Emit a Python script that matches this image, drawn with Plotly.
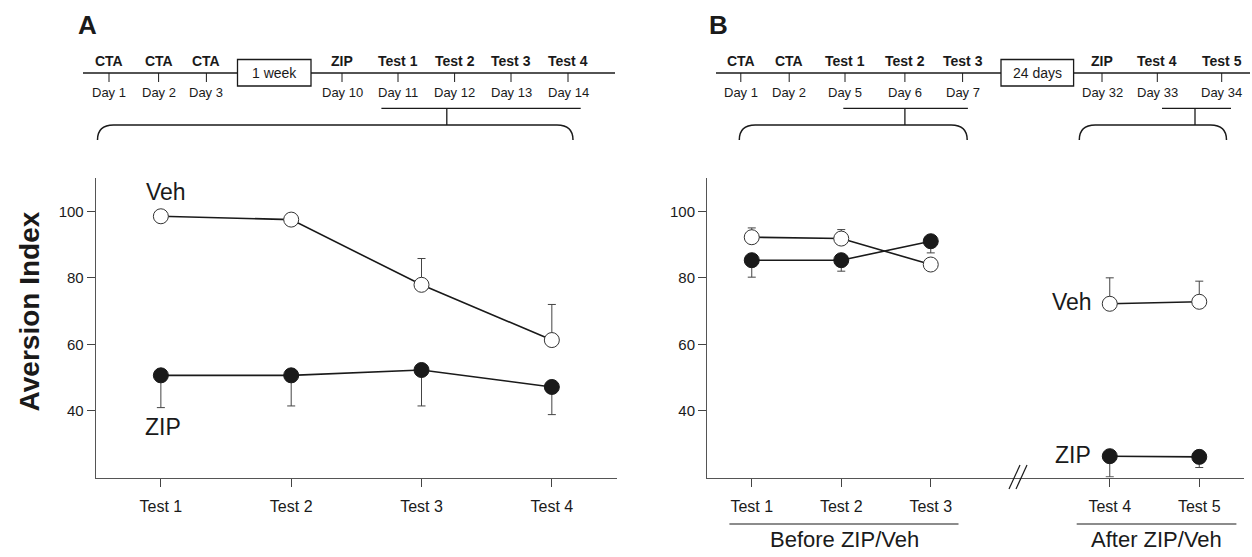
import plotly.graph_objects as go

# ---------------- data ----------------
tests_a = ["Test 1", "Test 2", "Test 3", "Test 4"]
veh_a = [98.5, 97.5, 77.9, 61.3]
veh_a_err = [1.0, 1.0, 7.9, 10.7]
zip_a = [50.7, 50.7, 52.3, 47.2]
zip_a_err = [9.7, 9.2, 10.8, 8.3]

axis_b = ["Test 1", "Test 2", "Test 3", "", "Test 4", "Test 5"]  # "" = axis break
tests_b_before = ["Test 1", "Test 2", "Test 3"]
tests_b_after = ["Test 4", "Test 5"]
veh_b_before = [92.2, 91.8, 84.0]
veh_b_before_err = [2.8, 2.7, 1.0]
zip_b_before = [85.3, 85.3, 91.0]
zip_b_before_err = [5.1, 3.3, 3.5]
veh_b_after = [72.2, 72.8]
veh_b_after_err = [7.8, 6.2]
zip_b_after = [26.4, 26.2]
zip_b_after_err = [6.2, 3.2]

y_ticks = [40, 60, 80, 100]

events_a = ["CTA", "CTA", "CTA", "ZIP", "Test 1", "Test 2", "Test 3", "Test 4"]
days_a = ["Day 1", "Day 2", "Day 3", "Day 10", "Day 11", "Day 12", "Day 13", "Day 14"]
events_b = ["CTA", "CTA", "Test 1", "Test 2", "Test 3", "ZIP", "Test 4", "Test 5"]
days_b = ["Day 1", "Day 2", "Day 5", "Day 6", "Day 7", "Day 32", "Day 33", "Day 34"]

# ---------------- layout helpers (pixel positions -> paper) ----------------
W, H = 1252, 557
def px(x):
    return x / W
def py(y):
    return 1 - y / H

FONT = "Liberation Sans, Arial, sans-serif"
INK = "#1a1a1a"

pos_a = list(range(len(tests_a)))
idx_b = {t: i for i, t in enumerate(axis_b)}
xb_before = [idx_b[t] for t in tests_b_before]
xb_after = [idx_b[t] for t in tests_b_after]
tickvals_b = [i for i, t in enumerate(axis_b) if t]
ticktext_b = [t for t in axis_b if t]

fig = go.Figure()

def add_series(x, y, err, up, filled, xa, ya):
    fig.add_trace(go.Scatter(
        x=x, y=y, mode="lines+markers", xaxis=xa, yaxis=ya,
        line=dict(color=INK, width=1.6),
        marker=dict(symbol="circle", size=15,
                    color=INK if filled else "white",
                    line=dict(color="#333" if not filled else INK, width=1)),
        error_y=dict(type="data", symmetric=False,
                     array=err if up else [0] * len(err),
                     arrayminus=[0] * len(err) if up else err,
                     color="#444", thickness=1, width=4),
        showlegend=False, hoverinfo="skip"))

add_series(pos_a, veh_a, veh_a_err, True, False, "x", "y")
add_series(pos_a, zip_a, zip_a_err, False, True, "x", "y")
add_series(xb_before, veh_b_before, veh_b_before_err, True, False, "x2", "y2")
add_series(xb_before, zip_b_before, zip_b_before_err, False, True, "x2", "y2")
add_series(xb_after, veh_b_after, veh_b_after_err, True, False, "x2", "y2")
add_series(xb_after, zip_b_after, zip_b_after_err, False, True, "x2", "y2")

ydom = [py(477.5), py(178)]
axis_common = dict(showgrid=False, zeroline=False, showline=True, linecolor="#555",
                   linewidth=1, ticks="outside", ticklen=8, tickcolor="#444")
xfont = dict(family=FONT, size=16, color=INK)
yfont = dict(family=FONT, size=15, color=INK)
fig.update_layout(
    width=W, height=H, margin=dict(l=0, r=0, t=0, b=0),
    paper_bgcolor="white", plot_bgcolor="white",
    xaxis=dict(domain=[px(95.7), px(617)], range=[-0.5, 3.5], tickvals=pos_a,
               ticktext=tests_a, anchor="y", tickfont=xfont, ticklabelstandoff=6,
               **axis_common),
    yaxis=dict(domain=ydom, range=[20, 110], tickvals=y_ticks, anchor="x",
               tickfont=yfont, **axis_common),
    xaxis2=dict(domain=[px(707), px(1244)], range=[-0.5, 5.5], tickvals=tickvals_b,
                ticktext=ticktext_b, anchor="y2", tickfont=xfont, ticklabelstandoff=6,
                **axis_common),
    yaxis2=dict(domain=ydom, range=[20, 110], tickvals=y_ticks, anchor="x2",
                tickfont=yfont, **axis_common),
)

shapes = []
ann = []

def line(x0, y0, x1, y1, w=1.3, color=INK):
    shapes.append(dict(type="line", xref="paper", yref="paper",
                       x0=px(x0), y0=py(y0), x1=px(x1), y1=py(y1),
                       line=dict(color=color, width=w)))

def text(x, y, s, size, bold=False, angle=0):
    ann.append(dict(xref="paper", yref="paper", x=px(x), y=py(y), text=f"<b>{s}</b>" if bold else s,
                    showarrow=False, xanchor="center", yanchor="middle", textangle=angle,
                    font=dict(family=FONT, size=size, color=INK)))

def brace(x0, x1, ytop, ybot, r=16):
    path = (f"M {px(x0)},{py(ybot)} Q {px(x0)},{py(ytop)} {px(x0 + r)},{py(ytop)} "
            f"L {px(x1 - r)},{py(ytop)} Q {px(x1)},{py(ytop)} {px(x1)},{py(ybot)}")
    shapes.append(dict(type="path", xref="paper", yref="paper", path=path,
                       line=dict(color=INK, width=1.5)))

def timeline(x_start, x_end, box, box_label, ev_x, events, days):
    line(x_start, 73, x_end, 73, w=1.3)
    shapes.append(dict(type="rect", xref="paper", yref="paper",
                       x0=px(box[0]), x1=px(box[1]), y0=py(86), y1=py(59.5),
                       fillcolor="white", line=dict(color=INK, width=1.3)))
    text((box[0] + box[1]) / 2, 73, box_label, 14)
    for x, e, d in zip(ev_x, events, days):
        line(x, 73, x, 82, w=1)
        text(x, 60.5, e, 14, bold=True)
        text(x, 92, d, 13)

# timeline A
timeline(83, 615, (237.5, 311), "1 week",
         [109, 158.6, 206.4, 342, 398, 454.6, 511, 568], events_a, days_a)
line(381.4, 108.3, 580.7, 108.3)
line(446.8, 108.3, 446.8, 125)
brace(97.5, 573, 125, 140)

# timeline B
timeline(716, 1250, (1001, 1073.6), "24 days",
         [740.8, 789.2, 845, 904.9, 962.6, 1102, 1157.3, 1221.7], events_b, days_b)
line(843.3, 108.3, 967.9, 108.3)
line(904.9, 108.3, 904.9, 125)
brace(739.3, 967.2, 125, 140)
line(1162, 108.3, 1231, 108.3)
line(1195, 108.3, 1195, 125)
brace(1079.3, 1226.5, 125, 140)

# panel letters
text(87, 25, "A", 26, bold=True)
text(718, 25, "B", 26, bold=True)

# y title
text(29.7, 311.7, "Aversion Index", 28, bold=True, angle=-90)

# series labels
text(165.7, 191.7, "Veh", 23)
text(163, 426.7, "ZIP", 23)
text(1071.7, 301.7, "Veh", 23)
text(1073, 455, "ZIP", 23)

# axis break
line(1009, 489, 1020, 465, w=1.2)
line(1016, 489, 1027, 465, w=1.2)

# before / after group labels
line(729.4, 524, 958.5, 524, w=1.2)
line(1076.7, 524, 1236.4, 524, w=1.2)
text(844, 539, "Before ZIP/Veh", 22)
text(1156.5, 539, "After ZIP/Veh", 22)

fig.update_layout(shapes=shapes, annotations=ann)
fig.write_html("out.html", config={"displayModeBar": False},
               post_script="document.body.style.margin='0';document.body.style.overflow='hidden';")
